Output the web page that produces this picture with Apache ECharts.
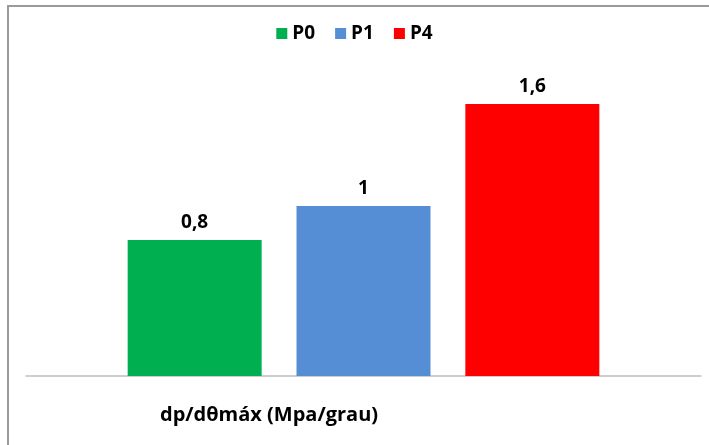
<!DOCTYPE html>
<html>
<head>
<meta charset="utf-8">
<script src="https://cdn.jsdelivr.net/npm/echarts@6/dist/echarts.min.js"></script>
<style>
  html, body { margin: 0; padding: 0; background: #fff; }
  #chart { width: 709px; height: 445px; }
</style>
</head>
<body>
<div id="chart"></div>
<script>
// dados
const categories = ['dp/dθmáx (Mpa/grau)']
const seriesNames = ['P0', 'P1', 'P4']
const p0Values = [0.8]
const p1Values = [1]
const p4Values = [1.6]
const colors = ['#00b050', '#558ed5', '#ff0000']

const chart = echarts.init(document.getElementById('chart'))

const fontFamily = '"Open Sans", "Liberation Sans", sans-serif'

const makeBar = (name, data, color) => ({
  name,
  type: 'bar',
  data,
  barWidth: 134,
  barGap: '26%',
  itemStyle: { color },
  label: {
    show: true,
    position: 'top',
    distance: 8,
    color: '#000',
    fontSize: 19,
    fontWeight: 'bold',
    fontFamily,
    formatter: p => String(p.value).replace('.', ',')
  }
})

const option = {
  animation: false,
  backgroundColor: '#ffffff',
  // moldura cinza do gráfico
  graphic: [
    {
      type: 'rect',
      shape: { x: 8, y: 6, width: 800, height: 500 },
      style: { fill: 'none', stroke: '#9a9a9a', lineWidth: 2 },
      silent: true
    }
  ],
  title: {
    text: categories[0],
    left: 155,
    top: 400,
    textStyle: { fontSize: 20, fontWeight: 'bold', color: '#000', fontFamily }
  },
  legend: {
    data: seriesNames,
    top: 19,
    left: 'center',
    icon: 'rect',
    itemWidth: 11,
    itemHeight: 11,
    itemGap: 20,
    textStyle: { fontSize: 19, fontWeight: 'bold', color: '#000', fontFamily }
  },
  grid: { left: 26, right: 8, top: 70, bottom: 69 },
  xAxis: {
    type: 'category',
    data: categories,
    axisLine: { show: true, lineStyle: { color: '#bfbfbf', width: 1.5 } },
    axisTick: { show: false },
    axisLabel: { show: false }
  },
  yAxis: {
    type: 'value',
    min: 0,
    max: 1.8,
    show: false,
    splitLine: { show: false }
  },
  series: [
    makeBar(seriesNames[0], p0Values, colors[0]),
    makeBar(seriesNames[1], p1Values, colors[1]),
    makeBar(seriesNames[2], p4Values, colors[2])
  ]
}

chart.setOption(option)
</script>
</body>
</html>
